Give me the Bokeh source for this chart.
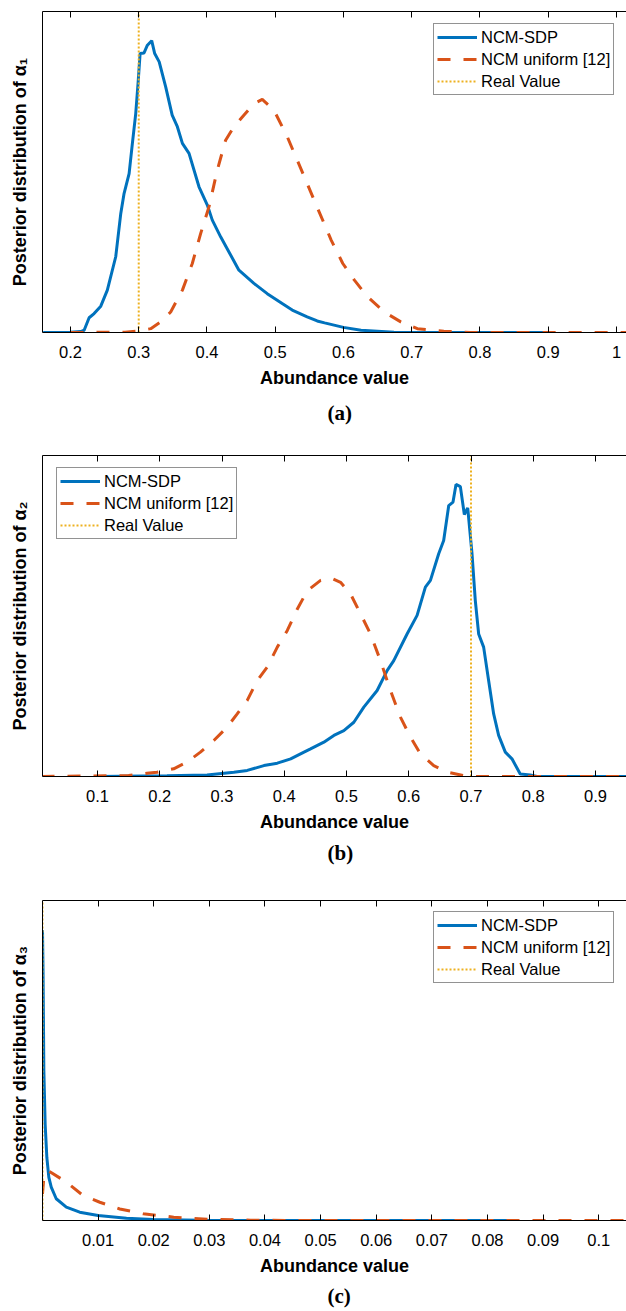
from bokeh.plotting import figure
from bokeh.layouts import column
from bokeh.models import Range1d, FixedTicker, Title, Legend, LegendItem, LinearAxis
from bokeh.embed import file_html
from bokeh.resources import INLINE

# ---------------- data ----------------
legend_labels = ["NCM-SDP", "NCM uniform [12]", "Real Value"]
x_title = "Abundance value"

# panel (a)
a_blue_x = [0.16, 0.20, 0.215, 0.220, 0.2273, 0.2346, 0.2444, 0.254, 0.2663, 0.2737, 0.2785, 0.2859,
            0.2907, 0.2956, 0.299, 0.302, 0.3078, 0.3127, 0.319, 0.3234, 0.33, 0.3395, 0.349, 0.3566,
            0.364, 0.3737, 0.3883, 0.4005, 0.4078, 0.42, 0.4322, 0.4468, 0.4688, 0.4883, 0.5102,
            0.5249, 0.5468, 0.5615, 0.5723, 0.60, 0.6257, 0.674, 0.72, 0.90]
a_blue_y = [0.0, 0.001, 0.003, 0.007, 0.046, 0.059, 0.082, 0.132, 0.236, 0.371, 0.433, 0.495,
            0.589, 0.682, 0.776, 0.869, 0.871, 0.895, 0.909, 0.869, 0.843, 0.765, 0.677, 0.641,
            0.589, 0.558, 0.454, 0.397, 0.35, 0.298, 0.251, 0.194, 0.153, 0.121, 0.09,
            0.07, 0.049, 0.036, 0.030, 0.016, 0.007, 0.001, 0.0, 0.0]
a_red_x = [0.20, 0.28, 0.298, 0.3176, 0.332, 0.3468, 0.364, 0.3785, 0.3907, 0.403, 0.4151, 0.4273,
           0.4395, 0.454, 0.4688, 0.481, 0.498, 0.5176, 0.5322, 0.5468, 0.5615, 0.582, 0.599,
           0.616, 0.6354, 0.6597, 0.684, 0.7083, 0.747, 0.786, 1.02]
a_red_y = [0.0, 0.001, 0.004, 0.012, 0.033, 0.064, 0.132, 0.215, 0.308, 0.392, 0.506, 0.599,
           0.641, 0.677, 0.713, 0.726, 0.693, 0.61, 0.537, 0.464, 0.39, 0.288, 0.215,
           0.163, 0.111, 0.064, 0.033, 0.012, 0.004, 0.0, 0.0]
a_real = 0.3
a_ticks = [0.2, 0.3, 0.4, 0.5, 0.6, 0.7, 0.8, 0.9, 1.0]
a_tick_labels = ["0.2", "0.3", "0.4", "0.5", "0.6", "0.7", "0.8", "0.9", "1"]

# panel (b)
b_blue_x = [0.10, 0.2116, 0.276, 0.319, 0.3405, 0.3673, 0.3888, 0.4103, 0.4317, 0.4422, 0.4636,
            0.4797, 0.4957, 0.5118, 0.5278, 0.5492, 0.5652, 0.5759, 0.5973, 0.6134, 0.6267,
            0.6348, 0.6481, 0.6561, 0.6642, 0.6711, 0.6759, 0.6829, 0.6893, 0.6947, 0.7016,
            0.7069, 0.7123, 0.7203, 0.7283, 0.7364, 0.7444, 0.7551, 0.7658, 0.7791, 0.7952,
            0.8059, 0.96]
b_blue_y = [0.0, 0.002, 0.005, 0.0135, 0.019, 0.034, 0.0415, 0.055, 0.076, 0.086, 0.107,
            0.128, 0.143, 0.169, 0.216, 0.268, 0.330, 0.361, 0.444, 0.502, 0.590,
            0.611, 0.694, 0.735, 0.844, 0.855, 0.910, 0.903, 0.816, 0.837, 0.694,
            0.548, 0.444, 0.403, 0.299, 0.195, 0.128, 0.076, 0.055, 0.008, 0.005,
            0.0, 0.0]
b_red_x = [0.01, 0.15, 0.1794, 0.1955, 0.2224, 0.2439, 0.2653, 0.2868, 0.3083, 0.3244, 0.3405,
           0.3566, 0.3727, 0.3888, 0.4049, 0.421, 0.4371, 0.4583, 0.4743, 0.4904, 0.5064,
           0.5225, 0.5385, 0.5545, 0.5706, 0.5866, 0.6027, 0.6187, 0.6401, 0.6615, 0.6882,
           0.7096, 0.96]
b_red_y = [0.0, 0.003, 0.010, 0.0135, 0.024, 0.045, 0.076, 0.112, 0.154, 0.195, 0.237,
           0.299, 0.341, 0.403, 0.455, 0.522, 0.579, 0.611, 0.619, 0.605, 0.569,
           0.507, 0.444, 0.361, 0.268, 0.185, 0.123, 0.071, 0.034, 0.0135, 0.003,
           0.0, 0.0]
b_real = 0.7
b_ticks = [0.1, 0.2, 0.3, 0.4, 0.5, 0.6, 0.7, 0.8, 0.9]
b_tick_labels = ["0.1", "0.2", "0.3", "0.4", "0.5", "0.6", "0.7", "0.8", "0.9"]

# panel (c)
c_blue_x = [0.0, 0.0001, 0.00024, 0.00048, 0.00078, 0.00114, 0.00157, 0.00247, 0.00428, 0.00669,
            0.01, 0.0151, 0.0199, 0.0284, 0.035, 0.0845]
c_blue_y = [0.907, 0.78, 0.47, 0.30, 0.197, 0.135, 0.104, 0.068, 0.042, 0.026,
            0.0156, 0.0073, 0.003, 0.001, 0.0, 0.0]
c_red_x = [0.0, 0.0002, 0.001, 0.0043, 0.0073, 0.0103, 0.0139, 0.0181, 0.0236, 0.0296, 0.0374,
           0.045, 0.106]
c_red_y = [0.083, 0.125, 0.156, 0.12, 0.078, 0.057, 0.036, 0.021, 0.0104, 0.004, 0.001,
           0.0, 0.0]
c_real = 0.0
c_ticks = [0.01, 0.02, 0.03, 0.04, 0.05, 0.06, 0.07, 0.08, 0.09, 0.1]
c_tick_labels = ["0.01", "0.02", "0.03", "0.04", "0.05", "0.06", "0.07", "0.08", "0.09", "0.1"]

# ---------------- styling ----------------
BLUE = "#0072BD"
RED = "#D95319"
ORANGE = "#EDB120"
AXC = "black"
SANS = "Liberation Sans"
SERIF = "Liberation Serif"


def panel(bx, by, rx, ry, real, xr, ticks, tick_labels, ylabel, plabel,
          height, btop, bbottom, legend_x, title_standoff):
    p = figure(width=626, height=height, x_range=Range1d(*xr), y_range=Range1d(0, 1),
               output_backend="svg", toolbar_location=None,
               min_border_left=42, min_border_right=0,
               min_border_top=btop, min_border_bottom=bbottom)
    p.outline_line_color = None
    p.xgrid.visible = False
    p.ygrid.visible = False

    overrides = {t: l for t, l in zip(ticks, tick_labels)}

    xa = p.xaxis[0]
    xa.ticker = FixedTicker(ticks=ticks)
    xa.major_label_overrides = overrides
    xa.major_tick_in = 6
    xa.major_tick_out = 0
    xa.minor_tick_in = 0
    xa.minor_tick_out = 0
    xa.axis_line_color = AXC
    xa.major_tick_line_color = AXC
    xa.major_label_text_font = SANS
    xa.major_label_text_font_size = "16.5px"
    xa.major_label_text_color = "black"
    xa.major_label_standoff = 13
    xa.axis_label = x_title
    xa.axis_label_text_font = SANS
    xa.axis_label_text_font_style = "bold"
    xa.axis_label_text_font_size = "18px"
    xa.axis_label_text_color = "black"
    xa.axis_label_standoff = 7

    # top border of the box with inward ticks, no labels
    top = LinearAxis(ticker=FixedTicker(ticks=ticks))
    top.major_tick_in = 6
    top.major_tick_out = 0
    top.minor_tick_in = 0
    top.minor_tick_out = 0
    top.major_label_text_color = None
    top.major_label_standoff = 0
    top.axis_line_color = AXC
    top.major_tick_line_color = AXC
    p.add_layout(top, "above")

    ya = p.yaxis[0]
    ya.ticker = FixedTicker(ticks=[])
    ya.major_tick_in = 0
    ya.major_tick_out = 0
    ya.minor_tick_in = 0
    ya.minor_tick_out = 0
    ya.major_label_standoff = 0
    ya.axis_line_color = AXC
    ya.axis_label = ylabel
    ya.axis_label_text_font = SANS
    ya.axis_label_text_font_style = "bold"
    ya.axis_label_text_font_size = "18px"
    ya.axis_label_text_color = "black"
    ya.axis_label_standoff = 13

    r1 = p.line(bx, by, line_color=BLUE, line_width=3)
    r2 = p.line(rx, ry, line_color=RED, line_width=3, line_dash="13 13")
    r3 = p.line([real, real], [p.y_range.start, p.y_range.end], line_color=ORANGE,
                line_width=2, line_dash="2 2")

    leg = Legend(items=[LegendItem(label=legend_labels[0], renderers=[r1]),
                        LegendItem(label=legend_labels[1], renderers=[r2]),
                        LegendItem(label=legend_labels[2], renderers=[r3])],
                 location=(legend_x, 237))
    leg.border_line_color = "#262626"
    leg.border_line_width = 1
    leg.background_fill_color = "white"
    leg.background_fill_alpha = 1
    leg.label_text_font = SANS
    leg.label_text_font_size = "16.5px"
    leg.label_text_color = "black"
    leg.glyph_width = 40
    leg.glyph_height = 20
    leg.label_height = 20
    leg.label_standoff = 4
    leg.spacing = 2
    leg.padding = 3
    leg.margin = 0
    p.add_layout(leg, "center")

    t = Title(text=plabel, align="left", offset=285, text_font=SERIF,
              text_font_style="bold", text_font_size="21px", text_color="black",
              standoff=title_standoff)
    p.add_layout(t, "below")
    return p


pa = panel(a_blue_x, a_blue_y, a_red_x, a_red_y, a_real, (0.159, 1.0147), a_ticks, a_tick_labels,
           "Posterior distribution of α₁", "(a)", 440, 11, 108, 391, 16)
pb = panel(b_blue_x, b_blue_y, b_red_x, b_red_y, b_real, (0.0116, 0.9498), b_ticks, b_tick_labels,
           "Posterior distribution of α₂", "(b)", 430, 15, 94, 14, 8)
pc = panel(c_blue_x, c_blue_y, c_red_x, c_red_y, c_real, (0.0, 0.105), c_ticks, c_tick_labels,
           "Posterior distribution of α₃", "(c)", 441, 30, 91, 391, 6)

layout = column(pa, pb, pc, spacing=0)
open("out.html", "w").write(file_html(layout, INLINE))
